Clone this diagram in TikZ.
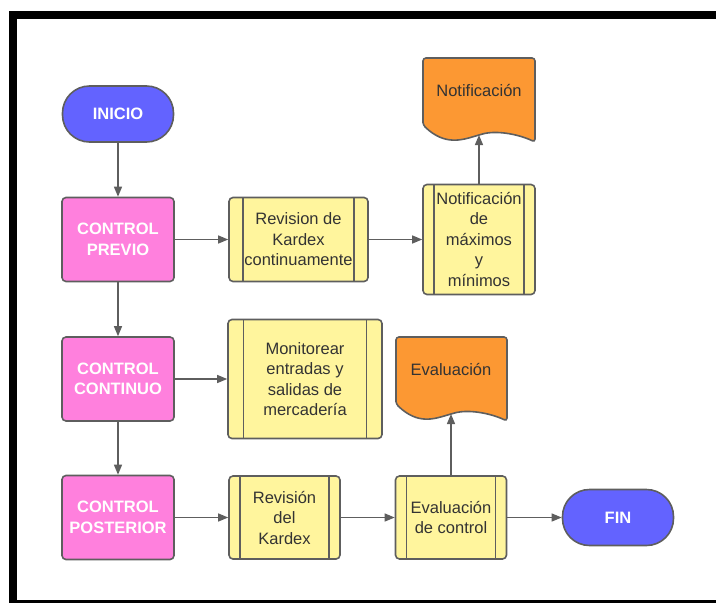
\documentclass[tikz,border=0pt]{standalone}
\usepackage{fontspec}
\setmainfont{Liberation Sans}
\usetikzlibrary{arrows.meta,calc}

\definecolor{termblue}{RGB}{99,99,255}
\definecolor{ctrlpink}{RGB}{255,128,221}
\definecolor{subyellow}{RGB}{255,245,157}
\definecolor{docorange}{RGB}{252,152,51}
\definecolor{edgegray}{RGB}{94,94,94}
\definecolor{textgray}{RGB}{51,51,51}

\begin{document}
\begin{tikzpicture}[x=1pt,y=-1pt,
  every node/.style={font=\fontsize{16.5}{20.5}\selectfont, align=center, inner sep=0pt},
  terminal/.style={draw=edgegray, line width=1.6pt, fill=termblue, rounded corners=27pt,
    minimum width=111pt, minimum height=56pt, text=white, font=\fontsize{16.5}{20.5}\selectfont\bfseries},
  control/.style={draw=edgegray, line width=1.6pt, fill=ctrlpink, rounded corners=4pt,
    minimum width=112pt, minimum height=84pt, text=white, font=\fontsize{16.5}{20.5}\selectfont\bfseries},
  subproc/.style={draw=edgegray, line width=1.6pt, fill=subyellow, rounded corners=4pt, text=textgray,
    path picture={\draw[edgegray, line width=1.6pt]
      ($(path picture bounding box.north west)!.1!(path picture bounding box.north east)$) --
      ($(path picture bounding box.south west)!.1!(path picture bounding box.south east)$)
      ($(path picture bounding box.north east)!.1!(path picture bounding box.north west)$) --
      ($(path picture bounding box.south east)!.1!(path picture bounding box.south west)$);}},
  docbox/.style={draw=edgegray, line width=1.6pt, fill=docorange, rounded corners=3pt},
  flow/.style={draw=edgegray, line width=1.3pt, -{Triangle[length=10pt,width=8pt]}}
]
\useasboundingbox (0,0) rectangle (716,603);
\draw[line width=8pt] (12.5,15) rectangle (740,604);

% main column
\node[terminal] (inicio) at (118,114) {INICIO};
\node[control] (previo) at (118,239.5) {CONTROL\\PREVIO};
\node[control] (continuo) at (118,379) {CONTROL\\CONTINUO};
\node[control] (posterior) at (118,517.5) {CONTROL\\POSTERIOR};

% sub processes
\node[subproc, minimum width=139pt, minimum height=84pt] (revkardex) at (298.5,239.5) {Revision de\\Kardex\\continuamente};
\node[subproc, minimum width=112pt, minimum height=110pt] (notifmax) at (479,239.5) {Notificación\\de\\máximos\\y\\mínimos};
\node[subproc, minimum width=154pt, minimum height=119pt] (monitorear) at (305,379) {Monitorear\\entradas y\\salidas de\\mercadería};
\node[subproc, minimum width=111pt, minimum height=83pt] (revdel) at (284.5,517.5) {Revisión\\del\\Kardex};
\node[subproc, minimum width=111pt, minimum height=83pt] (evalctl) at (451,517.5) {Evaluación\\de control};
\node[terminal] (fin) at (618,517.5) {FIN};

% documents
\draw[docbox] (423,125) -- (423,58) -- (535,58) -- (535,142)
  .. controls (518,134) and (496,130) .. (479,135)
  .. controls (462,140) and (445,146) .. (423,125) -- cycle;
\node[text=textgray] (notifdoc) at (479,91) {Notificación};
\coordinate (notiftip) at (479,135);

\draw[docbox] (396,404) -- (396,337) -- (507,337) -- (507,421)
  .. controls (490,413) and (468,409) .. (451,414)
  .. controls (434,419) and (418,425) .. (396,404) -- cycle;
\node[text=textgray] (evaldoc) at (451,370) {Evaluación};
\coordinate (evaltip) at (451,414);

% connectors
\foreach \a/\b in {inicio/previo, previo/continuo, continuo/posterior,
  previo/revkardex, revkardex/notifmax, notifmax/notiftip,
  continuo/monitorear, posterior/revdel, revdel/evalctl, evalctl/evaltip, evalctl/fin}
\draw[flow] (\a) -- (\b);
\end{tikzpicture}
\end{document}
